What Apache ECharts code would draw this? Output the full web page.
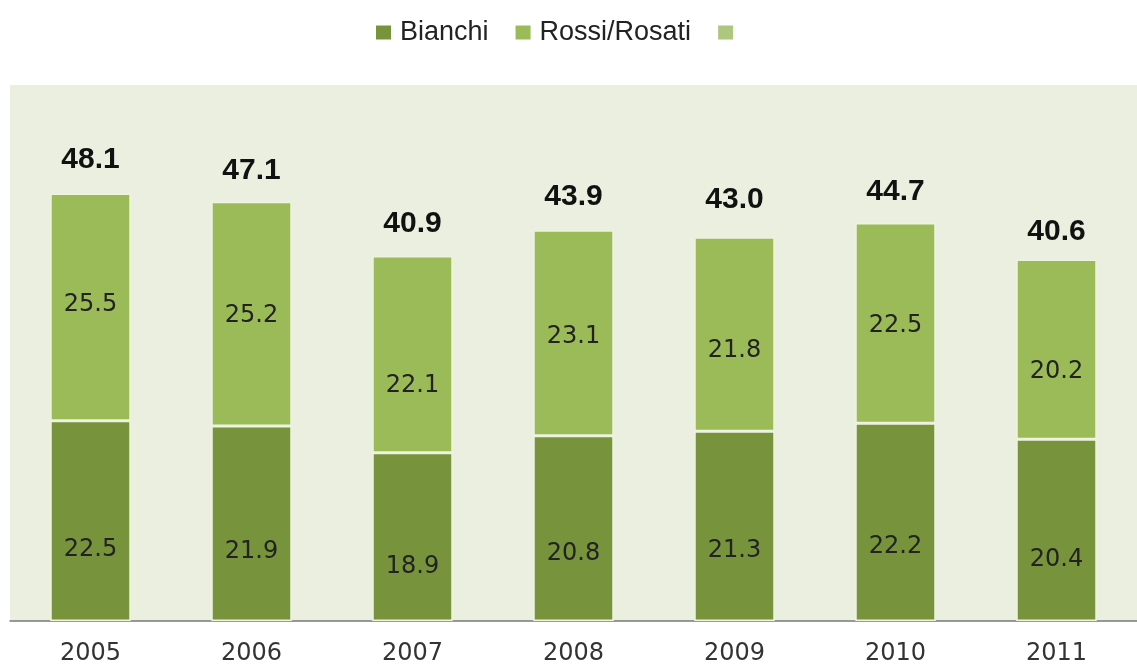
<!DOCTYPE html>
<html>
<head>
<meta charset="utf-8">
<script src="https://cdn.jsdelivr.net/npm/echarts@6/dist/echarts.min.js"></script>
<style>html,body{margin:0;padding:0;background:#fff;}#c{width:1137px;height:666px;}</style>
</head>
<body>
<div id="c"></div>
<script>
const years = ['2005','2006','2007','2008','2009','2010','2011'];
const bianchi = [22.5, 21.9, 18.9, 20.8, 21.3, 22.2, 20.4];
const rossi = [25.5, 25.2, 22.1, 23.1, 21.8, 22.5, 20.2];
const totals = [48.1, 47.1, 40.9, 43.9, 43.0, 44.7, 40.6];

// label nudges (layout only, pixels)
const rossiNudge = [-2, 2, 31, 4, 16, 3, 22];
const bianchiNudge = [29, 28, 30, 25, 25, 25, 30];
const totalNudge = [0, 2, 0, 0, -5, 2, 5];

const chart = echarts.init(document.getElementById('c'), null, {renderer: 'canvas'});
const segFont = {fontFamily: 'DejaVu Sans', fontSize: 24, color: '#222'};
const border = {borderColor: '#eef3df', borderWidth: 1.5};

function withNudge(vals, nudge){
  return vals.map((v, i) => ({value: v, label: {offset: [0, nudge[i]]}}));
}

chart.setOption({
  animation: false,
  backgroundColor: '#ffffff',
  legend: {
    left: 371, top: 14,
    itemWidth: 15, itemHeight: 14, itemGap: 27,
    icon: 'rect',
    textStyle: {fontFamily: 'Liberation Sans', fontSize: 27, color: '#222', padding: [0, 0, 0, 4]},
    data: [
      {name: 'Bianchi', itemStyle: {color: '#77933c', borderWidth: 0}},
      {name: 'Rossi/Rosati', itemStyle: {color: '#9bbb59', borderWidth: 0}},
      {name: ' ', itemStyle: {color: '#adc77f', borderWidth: 0}}
    ]
  },
  grid: {left: 10, right: -13, top: 85, bottom: 45, show: true, backgroundColor: '#ebefdf', borderWidth: 0},
  xAxis: {
    type: 'category', data: years,
    axisLine: {show: true, lineStyle: {color: '#7a7a7a', width: 1.5}},
    axisTick: {show: false},
    axisLabel: {margin: 21, fontFamily: 'DejaVu Sans', fontSize: 24, color: '#333'}
  },
  yAxis: {type: 'value', min: 0, max: 60.2, show: false, splitLine: {show: false}},
  series: [
    {
      name: 'Bianchi', type: 'bar', stack: 's', barWidth: '50%',
      itemStyle: Object.assign({color: '#77933c'}, border),
      label: Object.assign({show: true, position: 'inside', formatter: p => p.value.toFixed(1)}, segFont),
      data: withNudge(bianchi, bianchiNudge)
    },
    {
      name: 'Rossi/Rosati', type: 'bar', stack: 's', barWidth: '50%',
      itemStyle: Object.assign({color: '#9bbb59'}, border),
      label: Object.assign({show: true, position: 'inside', formatter: p => p.value.toFixed(1)}, segFont),
      data: withNudge(rossi, rossiNudge)
    },
    {
      name: ' ', type: 'bar', barWidth: '50%', barGap: '-100%', z: 1,
      itemStyle: {color: 'rgba(0,0,0,0)'},
      label: {show: true, position: 'top', distance: 18, fontFamily: 'Liberation Sans', fontWeight: 'bold', fontSize: 30, color: '#111', formatter: p => p.value.toFixed(1)},
      data: withNudge(totals, totalNudge),
      silent: true
    }
  ]
});
</script>
</body>
</html>
